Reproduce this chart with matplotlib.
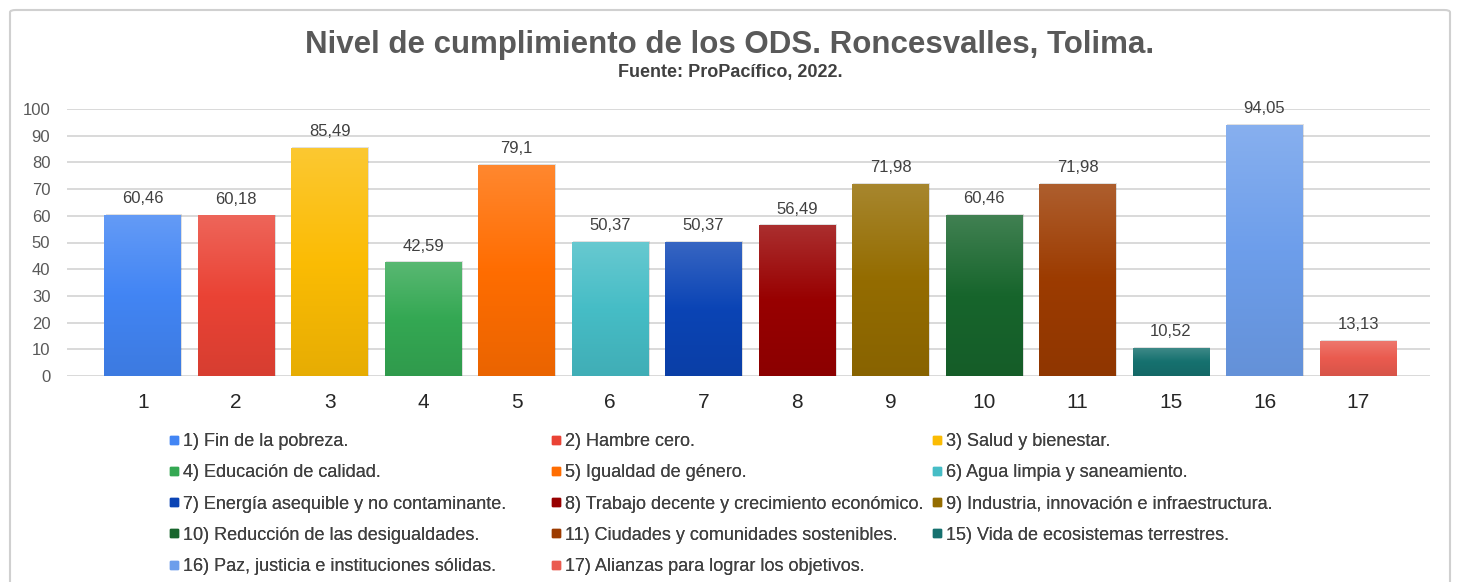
import matplotlib
matplotlib.use("Agg")
import matplotlib.pyplot as plt
import numpy as np
from matplotlib.colors import to_rgb
from matplotlib.lines import Line2D
from matplotlib.patches import Rectangle, FancyBboxPatch

categories = ["1", "2", "3", "4", "5", "6", "7", "8", "9", "10", "11", "15", "16", "17"]
values = [60.46, 60.18, 85.49, 42.59, 79.1, 50.37, 50.37, 56.49, 71.98, 60.46, 71.98, 10.52, 94.05, 13.13]
value_labels = ["60,46", "60,18", "85,49", "42,59", "79,1", "50,37", "50,37", "56,49",
                "71,98", "60,46", "71,98", "10,52", "94,05", "13,13"]
legend_labels = [
    "1) Fin de la pobreza.", "2) Hambre cero.", "3) Salud y bienestar.",
    "4) Educación de calidad.", "5) Igualdad de género.", "6) Agua limpia y saneamiento.",
    "7) Energía asequible y no contaminante.", "8) Trabajo decente y crecimiento económico.",
    "9) Industria, innovación e infraestructura.",
    "10) Reducción de las desigualdades.", "11) Ciudades y comunidades sostenibles.",
    "15) Vida de ecosistemas terrestres.",
    "16) Paz, justicia e instituciones sólidas.", "17) Alianzas para lograr los objetivos.",
]
colors = ["#4285F4", "#EA4335", "#FBBC04", "#34A853", "#FF6D01", "#46BDC6", "#0B44B5",
          "#980000", "#946C00", "#17652C", "#9C3B00", "#16716F", "#6D9EEB", "#EA5B4F"]
yticks = [0, 10, 20, 30, 40, 50, 60, 70, 80, 90, 100]

plt.rcParams["font.family"] = ["Liberation Sans", "DejaVu Sans"]

W, H = 1458, 582
fig = plt.figure(figsize=(W / 100, H / 100), dpi=100)
fig.patch.set_facecolor("white")

# outer chart frame
frame = FancyBboxPatch((10 / W, -0.05), (1450 - 10) / W, (H - 10) / H + 0.05,
                       boxstyle="round,pad=0,rounding_size=0.004", transform=fig.transFigure,
                       facecolor="none", edgecolor="#D0D0D0", linewidth=1.5, zorder=-5)
fig.patches.append(frame)

ax = fig.add_axes([67 / W, 1 - 376 / H, (1430 - 67) / W, (376 - 109) / H])
ax.set_facecolor("none")
ax.set_zorder(2)
x = np.arange(len(categories))
bw = 0.82
bars = ax.bar(x, values, width=bw, color="none", edgecolor="none", zorder=3)

def mix(c, t, amt):
    c = np.array(to_rgb(c)); t = np.array(t)
    return c * (1 - amt) + t * amt

for rect, c in zip(bars, colors):
    x0, w, h = rect.get_x(), rect.get_width(), rect.get_height()
    top = mix(c, (1, 1, 1), 0.18)
    mid = np.array(to_rgb(c))
    bot = mix(c, (0, 0, 0), 0.08)
    n = 64
    t = np.linspace(0, 1, n)[:, None]
    grad = np.where(t < 0.5, top + (mid - top) * (t / 0.5), mid + (bot - mid) * ((t - 0.5) / 0.5))
    img = grad.reshape(n, 1, 3)
    sh = Rectangle((x0 + 0.012, 0), w, h + 0.3, facecolor="#000000", alpha=0.12,
                   edgecolor="none", zorder=2)
    ax.add_patch(sh)
    im = ax.imshow(img, extent=[x0, x0 + w, 0, h], aspect="auto", zorder=3,
                   interpolation="bilinear")
    im.set_clip_path(rect)

for xi, v, lab in zip(x, values, value_labels):
    ax.text(xi, v + 3.2, lab, ha="center", va="bottom", fontsize=12, color="#404040",
            clip_on=False)

ax.set_xlim(-0.81, 13.77)
ax.set_ylim(0, 100)
ax.set_yticks(yticks)
ax.set_xticks(x)
ax.set_xticklabels(categories)
ax.tick_params(axis="y", length=0, labelsize=12, labelcolor="#595959", pad=12)
ax.tick_params(axis="x", length=0, labelsize=15, labelcolor="#262626", pad=12)
ax.grid(axis="y", color="#D9D9D9", linewidth=1.4, zorder=0)
ax.set_axisbelow(True)
for s in ax.spines.values():
    s.set_visible(False)

fig.text(730 / W, 1 - 45 / H, "Nivel de cumplimiento de los ODS. Roncesvalles, Tolima.",
         ha="center", va="center", fontsize=22.5, fontweight="bold", color="#595959")
fig.text(730 / W, 1 - 72 / H, "Fuente: ProPacífico, 2022.", ha="center", va="center",
         fontsize=13, fontweight="bold", color="#404040")

# legend: three columns placed like the original
col_idx = [[0, 3, 6, 9, 12], [1, 4, 7, 10, 13], [2, 5, 8, 11]]
col_x = [160, 542, 923]
for idxs, cx in zip(col_idx, col_x):
    handles = [Line2D([], [], marker="s", linestyle="none", markersize=5.5,
                      markerfacecolor=colors[i], markeredgecolor=colors[i]) for i in idxs]
    leg = fig.legend(handles, [legend_labels[i] for i in idxs], loc="upper left",
                     bbox_to_anchor=(cx / W, 1 - 424 / H), frameon=False, borderpad=0,
                     handlelength=0.5, handletextpad=0.3, labelspacing=0.79,
                     prop={"size": 13}, labelcolor="#404040")
    fig.add_artist(leg)

fig.savefig("out.png", dpi=100, facecolor="white")
